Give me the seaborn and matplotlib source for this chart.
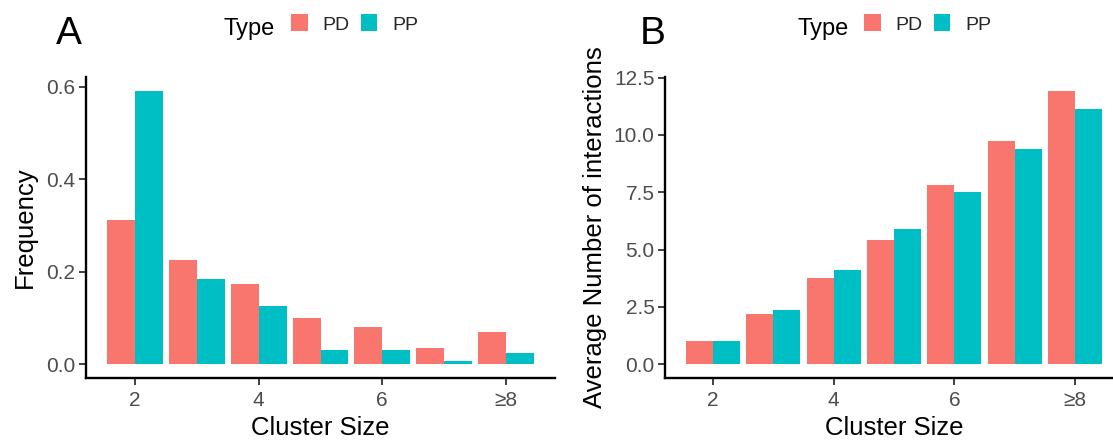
import matplotlib
matplotlib.use("Agg")
import matplotlib.pyplot as plt
from matplotlib.ticker import FormatStrFormatter
import seaborn as sns
import pandas as pd

# ---- data ----
cluster_sizes = ["2", "3", "4", "5", "6", "7", "\u22658"]
types = ["PD", "PP"]
freq_pd = [0.311, 0.226, 0.174, 0.099, 0.080, 0.035, 0.070]
freq_pp = [0.591, 0.184, 0.127, 0.030, 0.030, 0.0062, 0.025]
avg_pd = [1.0, 2.21, 3.78, 5.42, 7.82, 9.72, 11.93]
avg_pp = [1.0, 2.38, 4.11, 5.89, 7.53, 9.40, 11.15]
freq_ticks = [0.0, 0.2, 0.4, 0.6]
avg_ticks = [0.0, 2.5, 5.0, 7.5, 10.0, 12.5]
xtick_idx = [0, 2, 4, 6]
colors = {"PD": "#F8766D", "PP": "#00BFC4"}

sns.set_style("white")
plt.rcParams["font.family"] = ["Liberation Sans", "DejaVu Sans"]

W, H = 1113, 440
fig = plt.figure(figsize=(W / 100, H / 100), dpi=100)


def px_axes(x0, x1, y0, y1):
    return fig.add_axes([x0 / W, 1 - y1 / H, (x1 - x0) / W, (y1 - y0) / H])


def make_df(pd_vals, pp_vals):
    return pd.DataFrame({
        "size": cluster_sizes * 2,
        "Type": ["PD"] * len(cluster_sizes) + ["PP"] * len(cluster_sizes),
        "value": list(pd_vals) + list(pp_vals),
    })


def draw(ax, df, yticks, ylabel, ylab_x, legend_x, type_x, panel, panel_x):
    sns.barplot(data=df, x="size", y="value", hue="Type", order=cluster_sizes,
                hue_order=types, palette=colors, width=0.9, saturation=1,
                linewidth=0, errorbar=None, ax=ax)
    handles, labels = ax.get_legend_handles_labels()
    if ax.get_legend() is not None:
        ax.get_legend().remove()
    ymax = df["value"].max()
    ax.set_ylim(-0.05 * ymax, 1.05 * ymax)
    n = len(cluster_sizes)
    span = (n - 1) + 0.9
    ax.set_xlim(-0.45 - 0.05 * span, n - 1 + 0.45 + 0.05 * span)
    ax.set_xticks(xtick_idx)
    ax.set_xticklabels([cluster_sizes[i] for i in xtick_idx])
    ax.set_yticks(yticks)
    ax.yaxis.set_major_formatter(FormatStrFormatter("%.1f"))
    for s in ["top", "right"]:
        ax.spines[s].set_visible(False)
    for s in ["left", "bottom"]:
        ax.spines[s].set_linewidth(1.7)
        ax.spines[s].set_color("black")
    ax.tick_params(axis="both", which="major", bottom=True, left=True,
                   direction="out", length=5, width=1.3,
                   color="#333333", labelsize=15, labelcolor="#4D4D4D")
    ax.tick_params(axis="x", pad=4)
    ax.tick_params(axis="y", pad=2.5)
    ax.set_xlabel("Cluster Size", fontsize=18.5, color="black")
    ax.xaxis.set_label_coords(0.5, (378 - 416) / 301)
    ax.set_ylabel(ylabel, fontsize=18.5, color="black")
    ax.yaxis.set_label_coords(ylab_x, 0.5)
    ax.legend(handles, labels, loc="center left",
              bbox_to_anchor=(legend_x / W, 1 - 24 / H),
              bbox_transform=fig.transFigure, ncol=2, frameon=False,
              fontsize=14, handlelength=0.85, handleheight=0.95,
              handletextpad=0.75, columnspacing=0.6, borderpad=0,
              borderaxespad=0)
    fig.text(type_x / W, 1 - 34.5 / H, "Type", fontsize=17, ha="left",
             va="baseline", color="black")
    fig.text(panel_x / W, 1 - 44.5 / H, panel, fontsize=28, ha="left",
             va="baseline", color="black")


axA = px_axes(86, 555, 77, 378)
axB = px_axes(665, 1123, 77, 378)

draw(axA, make_df(freq_pd, freq_pp), freq_ticks, "Frequency",
     (37 - 86) / 469, 291, 223, "A", 56)
draw(axB, make_df(avg_pd, avg_pp), avg_ticks, "Average Number of interactions",
     (607 - 665) / 458, 864, 797, "B", 640)

fig.savefig("out.png", dpi=100)
